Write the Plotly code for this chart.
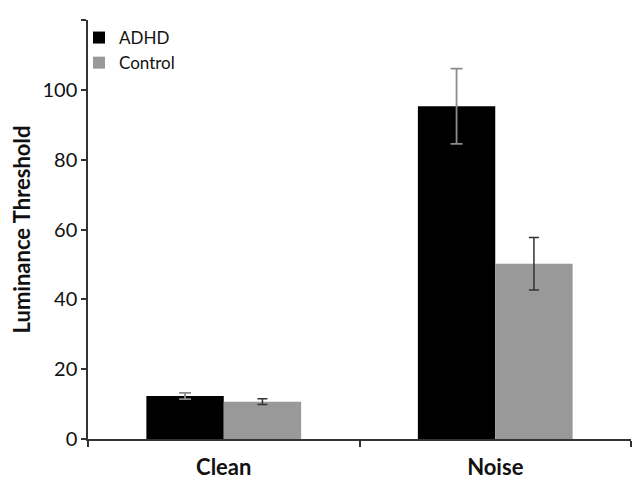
import plotly.graph_objs as go

# Luminance threshold by condition and group
conditions = ["Clean", "Noise"]
adhd_mean = [12.3, 95.3]
adhd_err = [0.9, 10.8]
control_mean = [10.7, 50.2]
control_err = [0.8, 7.5]

trace1 = go.Bar(x=conditions, y=adhd_mean, name="ADHD",
                marker=dict(color="#000000", line=dict(width=0)),
                error_y=dict(type="data", array=adhd_err, color="#8c8c8c",
                             thickness=1.8, width=6))
trace2 = go.Bar(x=conditions, y=control_mean, name="Control",
                marker=dict(color="#999999", line=dict(width=0)),
                error_y=dict(type="data", array=control_err, color="#333333",
                             thickness=1.5, width=5))

# page body adds an 8px offset, so the figure is a bit smaller than the window
layout = go.Layout(
    width=633, height=477,
    paper_bgcolor="white", plot_bgcolor="white",
    margin=dict(l=80, r=10, t=12, b=46),
    barmode="group", bargap=0.43, bargroupgap=0,
    font=dict(family="Lato, Open Sans, sans-serif", color="#111111"),
    xaxis=dict(showline=True, linecolor="#333333", linewidth=1.5,
               ticks="outside", ticklen=6, tickcolor="#333333", tickwidth=1.5,
               tickson="boundaries", automargin=False, ticklabelstandoff=8,
               tickfont=dict(size=22, weight="bold"),
               showgrid=False),
    yaxis=dict(range=[0, 120], dtick=20, showline=True, linecolor="#333333",
               linewidth=1.5, ticks="outside", ticklen=5, tickcolor="#333333",
               tickwidth=1.5, showgrid=False, zeroline=False, automargin=False,
               tickfont=dict(size=20),
               title=dict(text="<b>Luminance Threshold</b>", font=dict(size=22),
                          standoff=12)),
    legend=dict(x=-0.0166, y=1.0, xanchor="left", yanchor="top",
                bgcolor="rgba(0,0,0,0)", font=dict(size=17),
                itemwidth=30, tracegroupgap=0),
    showlegend=True,
)

fig = go.Figure(data=[trace1, trace2], layout=layout)
fig.write_html("out.html")
